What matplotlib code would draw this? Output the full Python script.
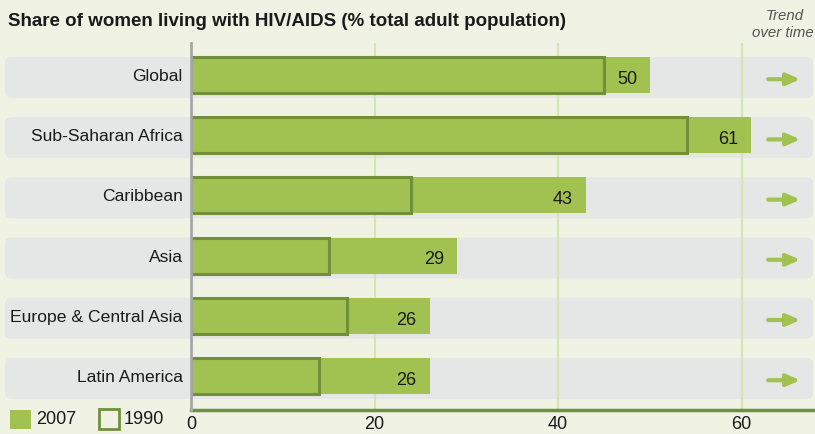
import matplotlib.pyplot as plt
import matplotlib.transforms as mtransforms
from matplotlib.patches import FancyBboxPatch, Rectangle

plt.rcParams['font.family'] = ['Liberation Sans', 'DejaVu Sans']

# data
regions = ['Global', 'Sub-Saharan Africa', 'Caribbean', 'Asia',
           'Europe & Central Asia', 'Latin America']
share_2007 = [50, 61, 43, 29, 26, 26]
share_1990 = [45, 54, 24, 15, 17, 14]
xticks = [0, 20, 40, 60]

bg = '#f0f3e4'
band = '#e5e6e6'
green = '#a1c151'
dark_green = '#71903a'
grid_col = '#d6e4b2'

fig = plt.figure(figsize=(8.15, 4.34), dpi=100, facecolor=bg)
ax = fig.add_axes([191 / 815, 24 / 434, 624 / 815, 367 / 434])
ax.set_facecolor('none')
ax.set_xlim(0, 68)
ax.set_ylim(5.565, -0.532)

ypos = list(range(len(regions)))

# grey row bands
trans = mtransforms.blended_transform_factory(ax.transAxes, ax.transData)
for y in ypos:
    ax.add_patch(FancyBboxPatch((-0.298, y - 0.3), 1.295, 0.68,
                                boxstyle='round,pad=0,rounding_size=0.011',
                                mutation_aspect=9.5, transform=trans,
                                facecolor=band, edgecolor='none',
                                clip_on=False, zorder=0))

for xt in xticks[1:]:
    ax.axvline(xt, color=grid_col, lw=1.5, zorder=1)

ax.barh(ypos, share_2007, height=0.6, color=green, zorder=2)
ax.barh(ypos, share_1990, height=0.6, color=green, edgecolor=dark_green,
        linewidth=2.2, zorder=3)

for y, v in zip(ypos, share_2007):
    ax.text(v - 1.4, y + 0.07, str(v), ha='right', va='center',
            fontsize=13, color='#1a1a1a', zorder=4)
    ax.annotate('', xy=(66.4, y + 0.07), xytext=(62.9, y + 0.07),
                arrowprops=dict(arrowstyle='-|>,head_length=0.8,head_width=0.35',
                                color=green, lw=3, shrinkA=0, shrinkB=0),
                zorder=4)

ax.set_yticks(ypos)
ax.set_yticklabels(regions, fontsize=12.6, color='#1a1a1a')
ax.tick_params(axis='y', length=0, pad=6)
ax.set_xticks(xticks)
ax.set_xticklabels([str(t) for t in xticks], fontsize=13, color='#1a1a1a')
ax.tick_params(axis='x', length=0, pad=4)

for s in ['top', 'right']:
    ax.spines[s].set_visible(False)
ax.spines['left'].set_color('#a8a8a8')
ax.spines['left'].set_linewidth(2)
ax.spines['left'].set_zorder(5)
ax.spines['bottom'].set_color(dark_green)
ax.spines['bottom'].set_linewidth(2.5)

fig.text(8 / 815, 1 - 22 / 434, 'Share of women living with HIV/AIDS (% total adult population)',
         fontsize=13.5, fontweight='bold', color='#1a1a1a', va='center')
fig.text(785 / 815, 1 - 16 / 434, 'Trend', fontsize=10.8, style='italic',
         color='#555555', ha='center', va='center')
fig.text(752 / 815, 1 - 33 / 434, 'over time', fontsize=10.8, style='italic',
         color='#555555', ha='left', va='center')

# legend
fig.patches.append(Rectangle((10 / 815, 1 - 429 / 434), 21 / 815, 19 / 434,
                             transform=fig.transFigure, facecolor=green,
                             edgecolor='none'))
fig.text(36 / 815, 1 - 420 / 434, '2007', fontsize=13, color='#1a1a1a', va='center')
fig.patches.append(Rectangle((99 / 815, 1 - 429 / 434), 20 / 815, 20 / 434,
                             transform=fig.transFigure, facecolor='none',
                             edgecolor=dark_green, linewidth=2))
fig.text(124 / 815, 1 - 420 / 434, '1990', fontsize=13, color='#1a1a1a', va='center')

fig.savefig('out.png', dpi=100, facecolor=bg)
